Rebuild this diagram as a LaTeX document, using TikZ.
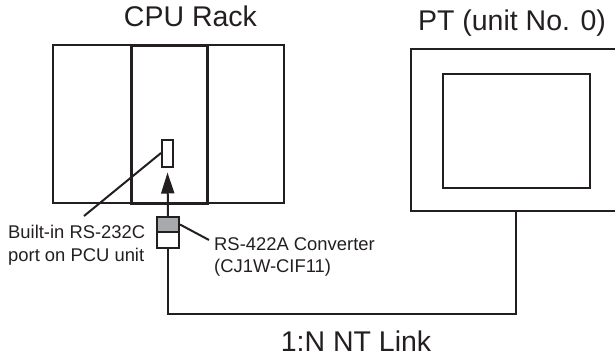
\documentclass[tikz,border=0pt]{standalone}
\usepackage{fontspec}
\setmainfont{Liberation Sans}
\usepackage{xcolor}
\usetikzlibrary{arrows.meta,positioning,calc}
\definecolor{linkblack}{HTML}{231F20}
\definecolor{convgray}{HTML}{A7A9AC}

\begin{document}
\begin{tikzpicture}[x=1pt, y=-1pt,
    box_thin/.style={draw=linkblack, fill=white, line width=2pt, inner sep=0pt, anchor=north west},
    box_thick/.style={draw=linkblack, fill=white, line width=3.2pt, inner sep=0pt, anchor=north west},
    title_lbl/.style={text=linkblack, font=\fontsize{28.5}{34}\selectfont, inner sep=0pt, anchor=base},
    small_lbl/.style={text=linkblack, font=\fontsize{18.4}{22.5}\selectfont, inner sep=0pt, align=left, anchor=north west},
    conn/.style={draw=linkblack, line width=2pt},
    port_conn/.style={draw=linkblack, line width=2pt, -{Triangle[length=21pt, width=13pt]}}
]
    \useasboundingbox (0,0) rectangle (615,356);

    % CPU Rack
    \node[box_thin, minimum width=231pt, minimum height=158pt] (rack) at (52,44) {};
    \node[box_thick, minimum width=76pt, minimum height=158pt] (cpu_unit) at (130,44) {};
    \node[box_thin, minimum width=11pt, minimum height=27pt] (port) at (161,138.5) {};
    \node[title_lbl] (rack_lbl) at (190.5,27) {CPU Rack};

    % PT
    \node[box_thin, minimum width=215pt, minimum height=162pt] (pt) at (410,48) {};
    \node[box_thin, minimum width=147pt, minimum height=114pt] (pt_screen) at (442,73) {};
    \node[title_lbl] (pt_lbl) at (512,30) {PT (unit No. 0)};

    % Converter
    \node[box_thin, fill=convgray, minimum width=22pt, minimum height=15pt] (conv_top) at (156,216) {};
    \node[box_thin, minimum width=22pt, minimum height=16pt] (conv_bot) at (156,231) {};

    % Labels
    \node[small_lbl] (port_lbl) at (8,225) {Built-in RS-232C\\port on PCU unit};
    \node[small_lbl] (conv_lbl) at (214,237) {RS-422A Converter\\(CJ1W-CIF11)};
    \node[title_lbl] (link_lbl) at (356,351) {1:N NT Link};

    % Free ends
    \coordinate (port_end) at (84,216);
    \coordinate (conv_end) at (209,240);
    \coordinate (link_corner) at (conv_bot.south |- 0,314);

    % Leaders
    \draw[conn] (port.west) -- (port_end);
    \draw[conn] (conv_top.east) -- (conv_end);

    % Converter -> port
    \draw[port_conn] (conv_top.north) -- ($(port.south)+(0,5)$);

    % NT Link
    \draw[conn] (conv_bot.south) -- (link_corner) -| (pt.south -| 516,0);
\end{tikzpicture}
\end{document}
